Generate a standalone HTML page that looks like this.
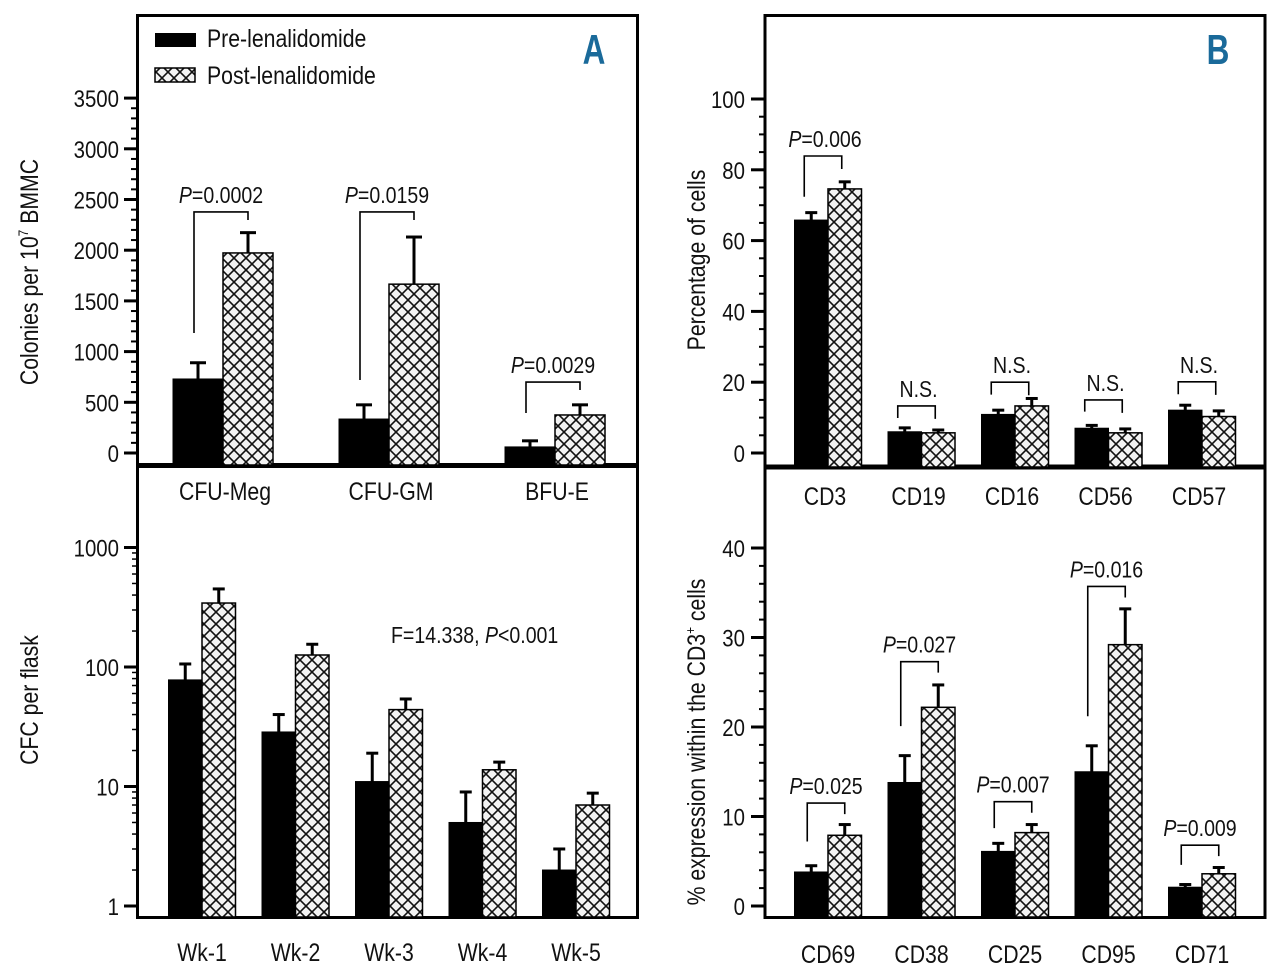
<!DOCTYPE html>
<html><head><meta charset="utf-8">
<style>
html,body{margin:0;padding:0;background:#fff;}
svg{display:block;font-family:"Liberation Sans",sans-serif;}
text{fill:#111;}
</style></head>
<body>
<svg id="fig" width="1280" height="974" viewBox="0 0 1280 974" xmlns="http://www.w3.org/2000/svg">
<defs>
<pattern id="hatch" patternUnits="userSpaceOnUse" width="12" height="12" x="0" y="0">
<rect width="12" height="12" fill="#f3f3f3"/>
<path d="M0,0 L12,12 M12,0 L0,12" stroke="#111" stroke-width="1.6"/>
</pattern>
</defs>
<!-- Panel frames -->
<g fill="none" stroke="#000">
<rect x="137.5" y="15.5" width="500" height="902" stroke-width="3"/>
<line x1="137" y1="465.5" x2="638" y2="465.5" stroke-width="5"/>
</g>
<g fill="none" stroke="#000">
<rect x="765" y="15.5" width="500" height="902" stroke-width="3"/>
<line x1="764" y1="467" x2="1266" y2="467" stroke-width="5"/>
</g>
<!-- Legend -->
<g>
<rect x="155" y="33" width="41" height="14" fill="#000"/>
<text transform="translate(207,47) scale(0.85,1)" font-size="25">Pre-lenalidomide</text>
<rect x="155" y="68" width="40" height="14" fill="url(#hatch)" stroke="#000" stroke-width="1.5"/>
<text transform="translate(207,84) scale(0.85,1)" font-size="25">Post-lenalidomide</text>
</g>
<text transform="translate(594,64) scale(0.75,1)" font-size="42" font-weight="bold" text-anchor="middle" style="fill:#1a6a9a">A</text>
<text transform="translate(1218,64) scale(0.75,1)" font-size="42" font-weight="bold" text-anchor="middle" style="fill:#1a6a9a">B</text>
<!-- Axis titles -->
<text transform="translate(38,272) rotate(-90) scale(0.85,1)" font-size="25" text-anchor="middle">Colonies per 10<tspan font-size="14" dy="-10">7</tspan><tspan dy="10"> BMMC</tspan></text>
<text transform="translate(38,700) rotate(-90) scale(0.85,1)" font-size="25" text-anchor="middle">CFC per flask</text>
<text transform="translate(705,260) rotate(-90) scale(0.85,1)" font-size="25" text-anchor="middle">Percentage of cells</text>
<text transform="translate(705,742) rotate(-90) scale(0.85,1)" font-size="25" text-anchor="middle">% expression within the CD3<tspan font-size="14" dy="-10">+</tspan><tspan dy="10"> cells</tspan></text>
<text transform="translate(391,643) scale(0.85,1)" font-size="23">F=14.338, <tspan font-style="italic">P</tspan>&lt;0.001</text>
<g id="marks"></g>
</svg>
<script>
// ---------- Data ----------
const catsA1 = ['CFU-Meg','CFU-GM','BFU-E'];
const preA1 = [730, 335, 60];
const preA1Err = [160, 140, 60];
const postA1 = [1973, 1665, 375];
const postA1Err = [200, 465, 100];
const pA1 = ['0.0002','0.0159','0.0029'];
const brTopA1 = [2377, 2377, 700];
const brLegA1 = [1183, 720, 394];
const ticksA1 = [0,500,1000,1500,2000,2500,3000,3500];

const catsA2 = ['Wk-1','Wk-2','Wk-3','Wk-4','Wk-5'];
const preA2 = [78, 28.6, 11, 5, 2];
const preA2ErrTop = [106, 40, 19, 9, 3];
const postA2 = [343, 126, 44, 13.8, 7];
const postA2ErrTop = [450, 155, 54, 16, 8.8];
const ticksA2 = [1,10,100,1000];

const catsB1 = ['CD3','CD19','CD16','CD56','CD57'];
const preB1 = [65.8, 6.0, 10.9, 7.0, 12.1];
const preB1Err = [2.1, 1.1, 1.2, 0.8, 1.4];
const postB1 = [74.6, 5.7, 13.3, 5.7, 10.3];
const postB1Err = [2.0, 0.8, 2.1, 1.1, 1.6];
const sigB1 = ['P=0.006','N.S.','N.S.','N.S.','N.S.'];
const brTopB1 = [83.9, 13.3, 20.0, 15.0, 20.1];
const brLegB1 = [72.4, 9.9, 16.5, 11.7, 16.6];
const ticksB1 = [0,20,40,60,80,100];

const catsB2 = ['CD69','CD38','CD25','CD95','CD71'];
const preB2 = [3.8, 13.8, 6.1, 15.0, 2.1];
const preB2Err = [0.7, 3.0, 0.9, 2.9, 0.3];
const postB2 = [7.9, 22.2, 8.2, 29.2, 3.6];
const postB2Err = [1.2, 2.5, 0.9, 4.0, 0.7];
const pB2 = ['0.025','0.027','0.007','0.016','0.009'];
const brTopB2 = [11.5, 27.3, 11.65, 35.7, 6.8];
const brLegB2 = [7.2, 20.1, 8.7, 21.2, 4.6];
const ticksB2 = [0,10,20,30,40];

// ---------- Scales ----------
const yA1 = v => 453 - v * 50.7 / 500;
const yA2 = v => 906 - 119.5 * Math.log10(v);
const yB1 = v => 453 - v * 3.54;
const yB2 = v => 906 - v * 8.95;
const xA1 = i => 223 + i * 166;
const xA2 = i => 202 + i * 93.5;
const xB = i => 828 + i * 93.5;

const NS = 'http://www.w3.org/2000/svg';
const root = document.getElementById('marks');
function mk(tag, attrs, parent) {
  const el = document.createElementNS(NS, tag);
  for (const k in attrs) el.setAttribute(k, attrs[k]);
  (parent || root).appendChild(el);
  return el;
}
function txt(x, y, html, size, anchor, name) {
  const el = mk('text', {transform: 'translate(' + x + ',' + y + ') scale(0.85,1)', 'font-size': size, 'text-anchor': anchor});
  el.innerHTML = html;
  
  
  return el;
}
function line(x1, y1, x2, y2, w, name) {
  const el = mk('line', {x1: x1, y1: y1, x2: x2, y2: y2, stroke: '#000', 'stroke-width': w});
  
  
  return el;
}
function bar(x, w, yTop, yBase, hatch, name) {
  const el = mk('rect', {x: x, y: yTop, width: w, height: Math.max(0, yBase - yTop),
    fill: hatch ? 'url(#hatch)' : '#000', stroke: '#000', 'stroke-width': hatch ? 1.5 : 1});
  
  
  return el;
}
function errbar(cx, yTop, yFrom, cap, name) {
  const g = mk('g', {});
  
  
  mk('line', {x1: cx, y1: yFrom, x2: cx, y2: yTop, stroke: '#000', 'stroke-width': 3}, g);
  mk('line', {x1: cx - cap / 2, y1: yTop, x2: cx + cap / 2, y2: yTop, stroke: '#000', 'stroke-width': 3}, g);
}
function bracket(xl, xr, yTop, yLeft, yRight, name) {
  const el = mk('path', {d: 'M' + xl + ',' + yLeft + ' L' + xl + ',' + yTop + ' L' + xr + ',' + yTop + ' L' + xr + ',' + yRight, fill: 'none', stroke: '#000', 'stroke-width': 1.6});
  
  
}

// ---------- Panel A top ----------
for (let v = 0; v <= 3500; v += 100) line(131, yA1(v), 137, yA1(v), 2, 'y-minor-tick-a1');
ticksA1.forEach(v => { line(124, yA1(v), 137, yA1(v), 3, 'y-tick-a1'); txt(119, yA1(v) + 9, String(v), 24, 'end', 'y-tick-label-a1'); });
catsA1.forEach((c, i) => {
  const cx = xA1(i), w = 50;
  bar(cx - w, w, yA1(preA1[i]), 465, false, 'bar-pre-' + c.toLowerCase());
  errbar(cx - w / 2, yA1(preA1[i] + preA1Err[i]), yA1(preA1[i]), 16, 'error-bar-pre');
  bar(cx, w, yA1(postA1[i]), 465, true, 'bar-post-' + c.toLowerCase());
  errbar(cx + w / 2, yA1(postA1[i] + postA1Err[i]), yA1(postA1[i]), 16, 'error-bar-post');
  const yt = yA1(brTopA1[i]);
  bracket(cx - w / 2 - 4, cx + w / 2, yt, yA1(brLegA1[i]), yt + 8, 'significance-bracket');
  txt(cx - 2, yt - 9, '<tspan font-style="italic">P</tspan>=' + pA1[i], 23, 'middle', 'p-value-label');
  txt(cx + 2, 500, c, 25, 'middle', 'x-category-label');
});

// ---------- Panel A bottom (log) ----------
for (let d = 1; d < 1000; d *= 10) for (let k = 2; k <= 9; k++) line(132, yA2(d * k), 137, yA2(d * k), 1.5, 'y-minor-tick-a2');
ticksA2.forEach(v => { line(124, yA2(v), 137, yA2(v), 3, 'y-tick-a2'); txt(119, yA2(v) + 9, String(v), 24, 'end', 'y-tick-label-a2'); });
catsA2.forEach((c, i) => {
  const cx = xA2(i), w = 33.5;
  bar(cx - w, w, yA2(preA2[i]), 917, false, 'bar-pre-' + c.toLowerCase());
  errbar(cx - w / 2, yA2(preA2ErrTop[i]), yA2(preA2[i]), 12, 'error-bar-pre');
  bar(cx, w, yA2(postA2[i]), 917, true, 'bar-post-' + c.toLowerCase());
  errbar(cx + w / 2, yA2(postA2ErrTop[i]), yA2(postA2[i]), 12, 'error-bar-post');
  txt(cx, 961, c, 25, 'middle', 'x-category-label');
});

// ---------- Panel B top ----------
for (let v = 0; v <= 100; v += 5) line(759, yB1(v), 765, yB1(v), 2, 'y-minor-tick-b1');
ticksB1.forEach(v => { line(751, yB1(v), 765, yB1(v), 3, 'y-tick-b1'); txt(745, yB1(v) + 9, String(v), 24, 'end', 'y-tick-label-b1'); });
catsB1.forEach((c, i) => {
  const cx = xB(i), w = 33.5;
  bar(cx - w, w, yB1(preB1[i]), 467, false, 'bar-pre-' + c.toLowerCase());
  errbar(cx - w / 2, yB1(preB1[i] + preB1Err[i]), yB1(preB1[i]), 12, 'error-bar-pre');
  bar(cx, w, yB1(postB1[i]), 467, true, 'bar-post-' + c.toLowerCase());
  errbar(cx + w / 2, yB1(postB1[i] + postB1Err[i]), yB1(postB1[i]), 12, 'error-bar-post');
  const yt = yB1(brTopB1[i]);
  bracket(cx - w / 2 - 7, cx + w / 2 - 3, yt, yB1(brLegB1[i]), yt + 13, 'significance-bracket');
  const lab = sigB1[i].startsWith('P=') ? '<tspan font-style="italic">P</tspan>' + sigB1[i].slice(1) : sigB1[i];
  txt(cx - 3, yt - 9, lab, 23, 'middle', 'significance-label');
  txt(cx - 3, 505, c, 25, 'middle', 'x-category-label');
});

// ---------- Panel B bottom ----------
for (let v = 0; v <= 40; v += 2) line(759, yB2(v), 765, yB2(v), 2, 'y-minor-tick-b2');
ticksB2.forEach(v => { line(751, yB2(v), 765, yB2(v), 3, 'y-tick-b2'); txt(745, yB2(v) + 9, String(v), 24, 'end', 'y-tick-label-b2'); });
catsB2.forEach((c, i) => {
  const cx = xB(i), w = 33.5;
  bar(cx - w, w, yB2(preB2[i]), 917, false, 'bar-pre-' + c.toLowerCase());
  errbar(cx - w / 2, yB2(preB2[i] + preB2Err[i]), yB2(preB2[i]), 12, 'error-bar-pre');
  bar(cx, w, yB2(postB2[i]), 917, true, 'bar-post-' + c.toLowerCase());
  errbar(cx + w / 2, yB2(postB2[i] + postB2Err[i]), yB2(postB2[i]), 12, 'error-bar-post');
  const yt = yB2(brTopB2[i]);
  bracket(cx - w / 2 - 4, cx + w / 2, yt, yB2(brLegB2[i]), yt + 11, 'significance-bracket');
  txt(cx - 2, yt - 9, '<tspan font-style="italic">P</tspan>=' + pB2[i], 23, 'middle', 'p-value-label');
  txt(cx, 963, c, 25, 'middle', 'x-category-label');
});
</script>
</body></html>
